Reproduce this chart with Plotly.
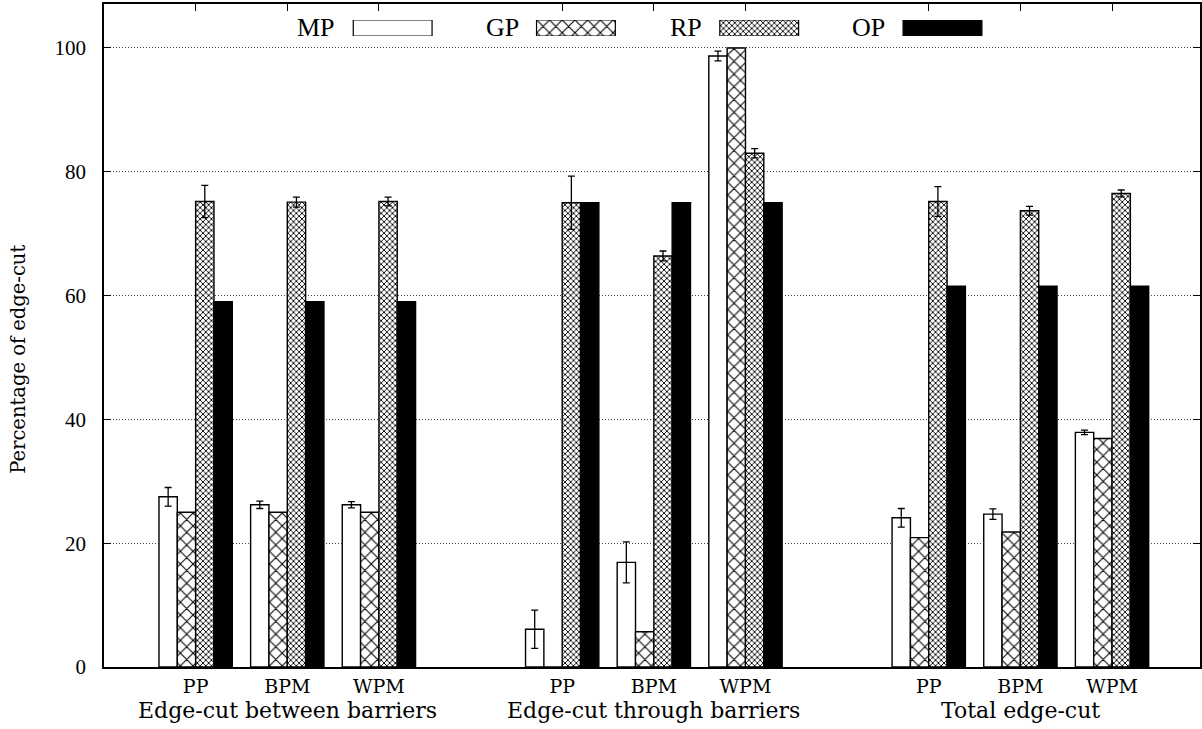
import plotly.graph_objects as go

# ---------------- data ----------------
categories = ["PP", "BPM", "WPM"]
groups = ["Edge-cut between barriers", "Edge-cut through barriers", "Total edge-cut"]
series = ["MP", "GP", "RP", "OP"]

mp = [27.5, 26.2, 26.2, 6.1, 16.9, 98.7, 24.1, 24.7, 37.9]
mp_err = [1.5, 0.6, 0.5, 3.1, 3.3, 0.8, 1.5, 0.85, 0.35]
gp = [25.0, 25.0, 25.0, 0.0, 5.7, 100.0, 20.9, 21.8, 36.9]
rp = [75.2, 75.1, 75.2, 75.0, 66.4, 83.0, 75.2, 73.7, 76.5]
rp_err = [2.6, 0.8, 0.7, 4.3, 0.8, 0.75, 2.4, 0.7, 0.55]
op = [59.0, 59.0, 59.0, 75.0, 75.0, 75.0, 61.5, 61.5, 61.5]

y_ticks = [0, 20, 40, 60, 80, 100]

# ---------------- layout helpers ----------------
x_pos = [g * (len(categories) + 1) + i for g in range(len(groups)) for i in range(len(categories))]
x_text = [categories[i] for g in range(len(groups)) for i in range(len(categories))]
group_centers = [g * (len(categories) + 1) + 1 for g in range(len(groups))]

styles = {
    "MP": dict(color="white", pattern=dict(shape="")),
    "GP": dict(color="white", pattern=dict(shape="x", size=9, solidity=0.22,
                                            fgcolor="black", bgcolor="white", fillmode="replace")),
    "RP": dict(color="white", pattern=dict(shape="x", size=4, solidity=0.4,
                                            fgcolor="black", bgcolor="white", fillmode="replace")),
    "OP": dict(color="black", pattern=dict(shape="")),
}

values = {"MP": mp, "GP": gp, "RP": rp, "OP": op}
errors = {"MP": mp_err, "RP": rp_err}

fig = go.Figure()
for s in series:
    st = styles[s]
    err = None
    if s in errors:
        err = dict(type="data", array=errors[s], visible=True, color="black",
                   thickness=1.3, width=3.5)
    fig.add_trace(go.Bar(
        x=x_pos, y=values[s], name=s, showlegend=False,
        marker=dict(color=st["color"], pattern=st["pattern"],
                    line=dict(color="black", width=1.4)),
        error_y=err,
    ))

# ---------------- custom legend (swatches on a thin strip axis) ----------------
leg_x = [2.15 + 2 * i for i in range(len(series))]
for s, lx in zip(series, leg_x):
    st = styles[s]
    fig.add_trace(go.Bar(
        x=[lx], y=[1], base=0, width=0.86, showlegend=False,
        xaxis="x2", yaxis="y2", hoverinfo="skip", offsetgroup="legend",
        marker=dict(color=st["color"], pattern=st["pattern"],
                    line=dict(color="black", width=1.2)),
    ))

annotations = []
for s, lx in zip(series, leg_x):
    annotations.append(dict(
        x=lx - 0.43, y=0.5, xref="x2", yref="y2", text=s, showarrow=False,
        xanchor="right", yanchor="middle", xshift=-16,
        font=dict(family="Liberation Serif", size=26, color="black")))

for g, gc in zip(groups, group_centers):
    annotations.append(dict(
        x=gc, y=0, xref="x", yref="paper", text=g, showarrow=False,
        xanchor="center", yanchor="middle", yshift=-43,
        font=dict(family="DejaVu Serif", size=22, color="black")))

annotations.append(dict(
    x=-0.0776, y=0.465, xref="paper", yref="paper", text="Percentage of edge-cut",
    showarrow=False, textangle=-90, xanchor="center", yanchor="middle",
    font=dict(family="DejaVu Serif", size=19.5, color="black")))

x_range = [-1.0, 10.96]

fig.update_layout(
    width=1202, height=729,
    margin=dict(l=104, r=2, t=4, b=62, autoexpand=False),
    paper_bgcolor="white", plot_bgcolor="white",
    barmode="group", bargap=0.2, bargroupgap=0.0,
    showlegend=False,
    annotations=annotations,
    xaxis=dict(
        range=x_range, tickmode="array", tickvals=x_pos, ticktext=x_text,
        ticks="inside", ticklen=7, tickwidth=1, tickcolor="black",
        showline=True, linecolor="black", linewidth=1.5, mirror="ticks",
        showgrid=False, zeroline=False,
        tickfont=dict(family="DejaVu Serif", size=19, color="black"),
        ticklabelstandoff=1,
    ),
    yaxis=dict(
        range=[0, 107.1], tickmode="array", tickvals=y_ticks,
        ticks="inside", ticklen=7, tickwidth=1, tickcolor="black",
        showline=True, linecolor="black", linewidth=1.5, mirror="ticks",
        showgrid=True, gridcolor="#444444", gridwidth=1, griddash="1px,2px",
        zeroline=False,
        tickfont=dict(family="Liberation Serif", size=21, color="black"),
        ticklabelstandoff=12,
    ),
    xaxis2=dict(
        range=x_range, anchor="y2", visible=False, showgrid=False, zeroline=False,
    ),
    yaxis2=dict(
        domain=[0.9517, 0.9759], range=[0, 1], anchor="x2", visible=False,
        showgrid=False, zeroline=False,
    ),
)

fig.write_html("out.html", config={"displayModeBar": False},
               post_script="document.body.style.margin='0';")
